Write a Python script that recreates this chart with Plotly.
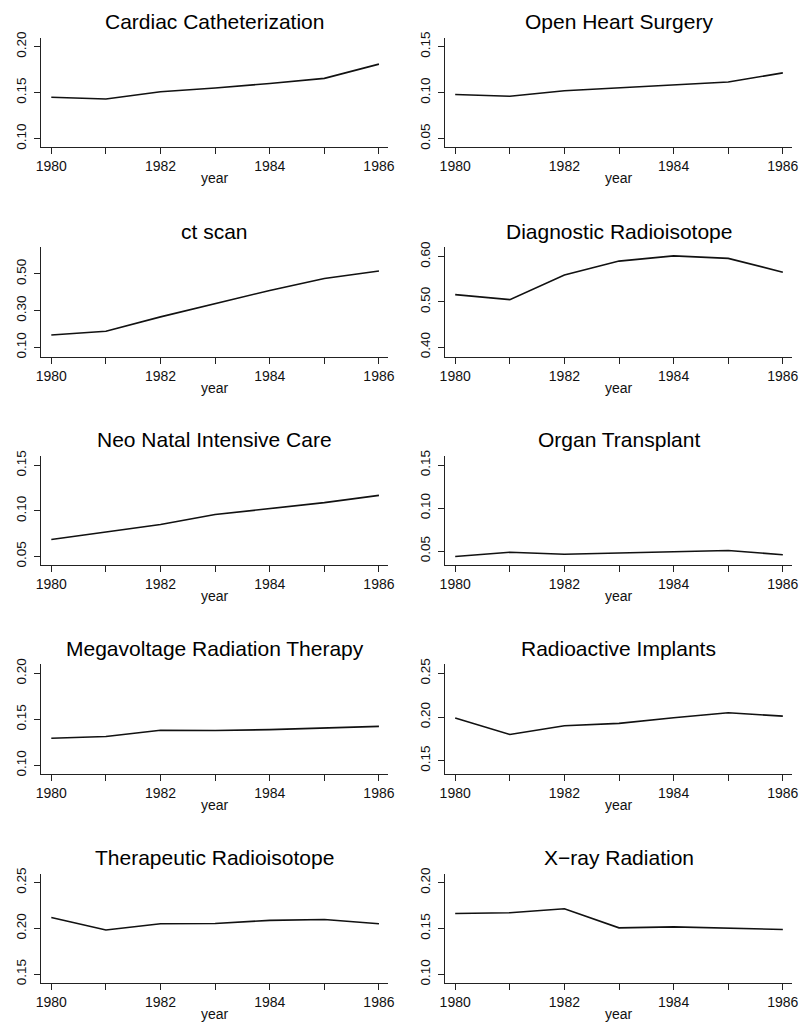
import plotly.graph_objects as go

years = [1980, 1981, 1982, 1983, 1984, 1985, 1986]

titles = ["Cardiac Catheterization", "Open Heart Surgery", "ct scan",
          "Diagnostic Radioisotope", "Neo Natal Intensive Care", "Organ Transplant",
          "Megavoltage Radiation Therapy", "Radioactive Implants",
          "Therapeutic Radioisotope", "X\u2212ray Radiation"]

cardiac = [0.145, 0.143, 0.151, 0.155, 0.160, 0.1655, 0.181]
open_heart = [0.098, 0.096, 0.102, 0.105, 0.1085, 0.1115, 0.1215]
ct_scan = [0.167, 0.188, 0.266, 0.338, 0.410, 0.475, 0.516]
diag_radio = [0.516, 0.505, 0.5595, 0.590, 0.6015, 0.596, 0.5655]
neo_natal = [0.0685, 0.0765, 0.085, 0.096, 0.1025, 0.109, 0.117]
organ = [0.0438, 0.0488, 0.0465, 0.0477, 0.0492, 0.0508, 0.0458]
megavolt = [0.1295, 0.1313, 0.1381, 0.1378, 0.1388, 0.1403, 0.1424]
radio_impl = [0.199, 0.180, 0.190, 0.1928, 0.1992, 0.205, 0.201]
thera_radio = [0.2119, 0.1982, 0.2051, 0.2054, 0.2087, 0.2097, 0.2051]
xray = [0.1664, 0.1671, 0.1715, 0.1507, 0.1518, 0.1507, 0.1489]

series = [cardiac, open_heart, ct_scan, diag_radio, neo_natal, organ,
          megavolt, radio_impl, thera_radio, xray]

y_ticks = [[0.10, 0.15, 0.20], [0.05, 0.10, 0.15], [0.10, 0.30, 0.50],
           [0.40, 0.50, 0.60], [0.05, 0.10, 0.15], [0.05, 0.10, 0.15],
           [0.10, 0.15, 0.20], [0.15, 0.20, 0.25], [0.15, 0.20, 0.25],
           [0.10, 0.15, 0.20]]

y_ranges = [[0.0903, 0.209], [0.0403, 0.159], [0.046, 0.6495], [0.378, 0.622],
            [0.0402, 0.1605], [0.0335, 0.161], [0.0903, 0.2097], [0.1345, 0.2602],
            [0.14, 0.2597], [0.0903, 0.2097]]

x_ticktext = ["1980", "", "1982", "", "1984", "", "1986"]

W, H = 806, 1028
cols = [(36, 388), (446, 798)]
rows = [(31.7, 141.7), (241.7, 353.3), (452.7, 563.3), (663.3, 774), (874.3, 985)]
title_y = [15, 226.7, 436.7, 646.7, 858.3]

FONT = "Liberation Sans, Arial, Helvetica, sans-serif"
fig = go.Figure()
annotations = []
layout = {}
for i, (t, vals) in enumerate(zip(titles, series)):
    r, c = divmod(i, 2)
    x0, x1 = cols[c]
    top, bot = rows[r]
    n = i + 1
    xa = "xaxis" if n == 1 else f"xaxis{n}"
    ya = "yaxis" if n == 1 else f"yaxis{n}"
    xr = "x" if n == 1 else f"x{n}"
    yr = "y" if n == 1 else f"y{n}"
    fig.add_trace(go.Scatter(x=years, y=vals, mode="lines",
                             line=dict(color="#111111", width=1.6),
                             xaxis=xr, yaxis=yr, showlegend=False, hoverinfo="skip"))
    layout[xa] = dict(domain=[x0 / W, x1 / W], anchor=yr,
                      range=[1979.82, 1986.17], tickvals=years, ticktext=x_ticktext,
                      ticks="outside", ticklen=6, tickwidth=1, tickcolor="#222",
                      showline=True, linecolor="#222", linewidth=1,
                      showgrid=False, zeroline=False, fixedrange=True,
                      tickfont=dict(family=FONT, size=14, color="#111"))
    layout[ya] = dict(domain=[1 - bot / H, 1 - top / H], anchor=xr,
                      range=y_ranges[i], tickvals=y_ticks[i], tickformat=".2f",
                      ticks="outside", ticklen=6, tickwidth=1, tickcolor="#222",
                      showline=True, linecolor="#222", linewidth=1,
                      showgrid=False, zeroline=False, tickangle=-90,
                      ticklabelstandoff=3, fixedrange=True,
                      tickfont=dict(family=FONT, size=13.5, color="#111"))
    annotations.append(dict(text=t, x=(x0 + x1) / 2 / W, y=1 - title_y[r] / H,
                            xref="paper", yref="paper", xanchor="center", yanchor="middle",
                            showarrow=False, font=dict(family=FONT, size=21, color="#000")))
    annotations.append(dict(text="year", x=(x0 + x1) / 2 / W, y=1 - (bot + 31) / H,
                            xref="paper", yref="paper", xanchor="center", yanchor="middle",
                            showarrow=False, font=dict(family=FONT, size=14, color="#111")))

fig.update_layout(width=W, height=H, margin=dict(l=0, r=0, t=0, b=0),
                  paper_bgcolor="white", plot_bgcolor="white", hovermode=False,
                  annotations=annotations, **layout)
fig.write_html("out.html", config={"displayModeBar": False, "staticPlot": True},
               post_script="document.body.style.margin='0';document.body.style.padding='0';")
